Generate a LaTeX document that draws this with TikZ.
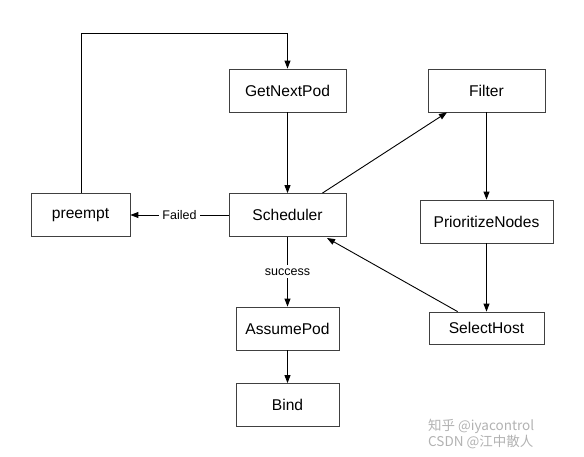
\documentclass[tikz,border=0pt]{standalone}
\usepackage{fontspec}
\setmainfont{Liberation Sans}
\newfontfamily\cjkfont{Noto Sans CJK SC}
\usetikzlibrary{arrows.meta}
\begin{document}
\begin{tikzpicture}[x=1pt,y=-1pt,
  box/.style={draw=black!75,line width=0.8pt,minimum height=43pt,inner sep=0pt,font=\fontsize{15.6}{18}\selectfont},
  arr/.style={draw=black,line width=0.9pt,-{Triangle[length=8pt,width=6pt]}},
  lbl/.style={fill=white,inner sep=3pt,font=\fontsize{12.5}{15}\selectfont},
  wm/.style={text=black!30,font=\cjkfont\fontsize{13.5}{15}\selectfont,inner sep=0pt,anchor=west}]
\useasboundingbox (0,0) rectangle (584,457);
\node[box,minimum width=117pt] (get) at (287.5,90.5) {GetNextPod};
\node[box,minimum width=117pt] (sch) at (287.5,215) {Scheduler};
\node[box,minimum width=99pt] (pre) at (80.5,215) {preempt};
\node[box,minimum width=117pt] (fil) at (486.5,90.5) {Filter};
\node[box,minimum width=133pt] (pri) at (486.5,221.5) {PrioritizeNodes};
\node[box,minimum width=115pt,minimum height=32pt] (sel) at (486.5,328) {SelectHost};
\node[box,minimum width=103pt] (ass) at (287.5,328.5) {AssumePod};
\node[box,minimum width=103pt] (bnd) at (287.5,405) {Bind};
\coordinate (c1) at (81,33);
\coordinate (c2) at (287.5,33);
\draw[arr] (pre.north -| c1) -- (c1) -- (c2) -- (get.north);
\draw[arr] (get) -- (sch);
\draw[arr] (sch) -- node[lbl] {Failed} (pre);
\draw[arr] (sch) -- node[lbl,pos=0.5] {success} (ass);
\draw[arr] (ass) -- (bnd);
\draw[arr] (sch.north east) ++(-24,0) coordinate (s1) (s1) -- (fil.south west -| 447,0);
\draw[arr] (fil) -- (pri);
\draw[arr] (pri) -- (sel);
\draw[arr] (sel.north west) ++(29,0) coordinate (s2) (s2) -- (327,238);
\node[wm] (w1) at (428,426) {知乎 @iyacontrol};
\node[wm] (w2) at (428,442) {CSDN @江中散人};
\end{tikzpicture}
\end{document}
